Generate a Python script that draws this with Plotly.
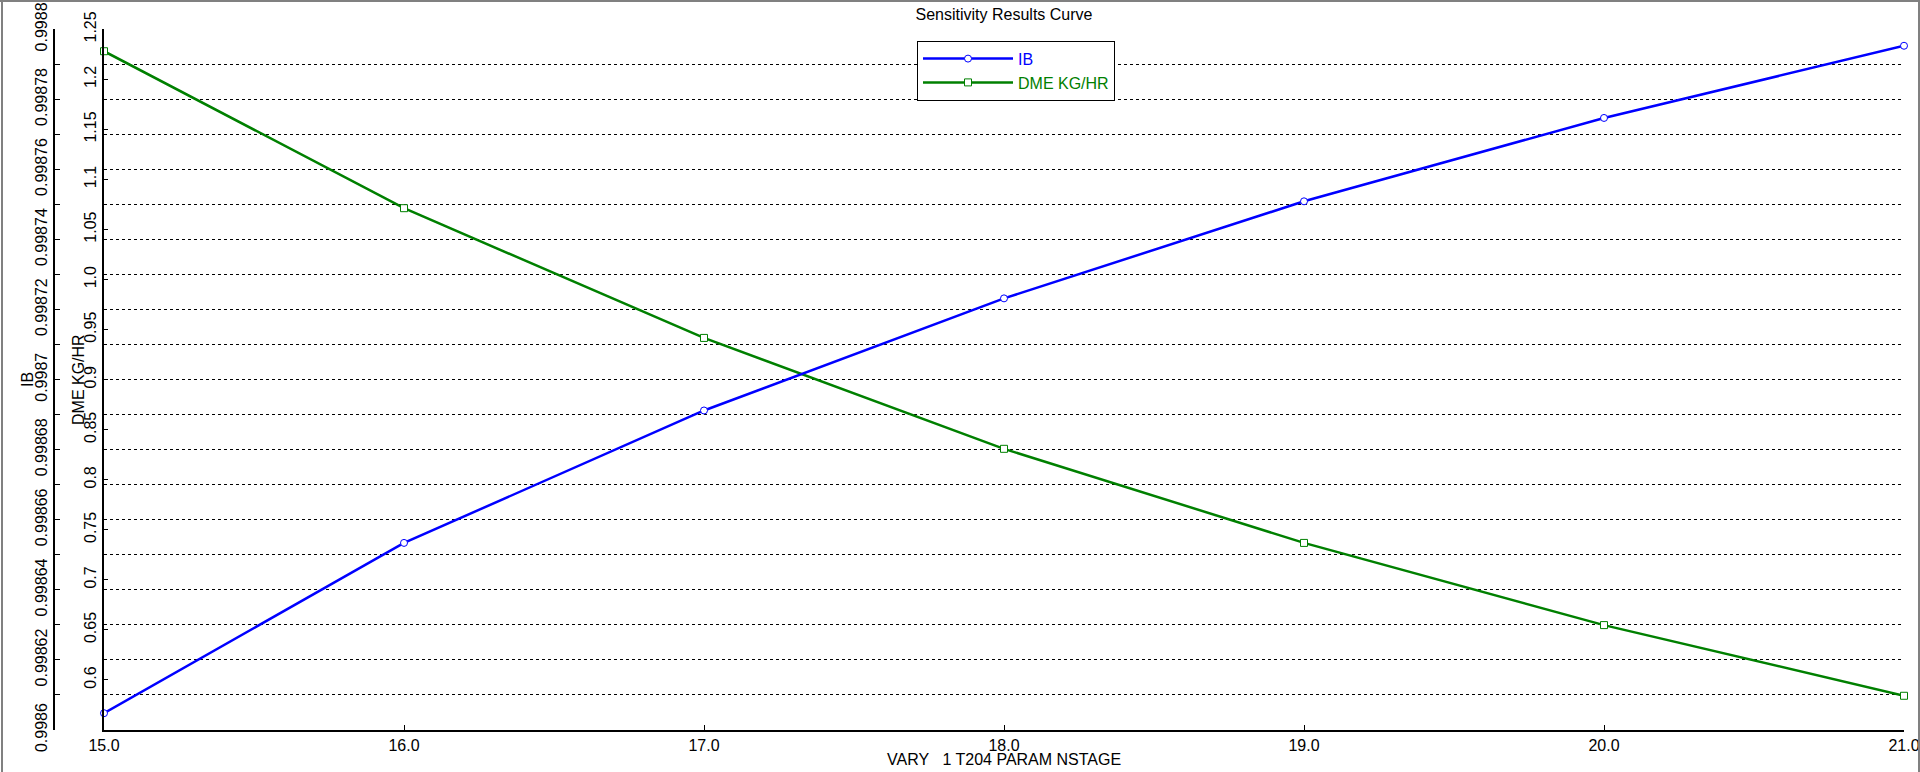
import plotly.graph_objects as go

# ---------------- data ----------------
nstage = [15, 16, 17, 18, 19, 20, 21]
ib = [0.9986048, 0.9986534, 0.9986912, 0.9987232, 0.9987509, 0.9987747, 0.9987953]
dme_kg_hr = [1.2281, 1.0713, 0.9417, 0.8309, 0.7369, 0.6548, 0.5842]

x_tick_labels = ["15.0", "16.0", "17.0", "18.0", "19.0", "20.0", "21.0"]
ib_tick_labels = ["0.9986", "0.99862", "0.99864", "0.99866", "0.99868", "0.9987",
                  "0.99872", "0.99874", "0.99876", "0.99878", "0.9988"]
dme_tick_labels = ["0.6", "0.65", "0.7", "0.75", "0.8", "0.85", "0.9", "0.95",
                   "1.0", "1.05", "1.1", "1.15", "1.2", "1.25"]

title_text = "Sensitivity Results Curve"
x_title = "VARY\u00a0\u00a0\u00a01 T204 PARAM NSTAGE"
ib_title = "IB"
dme_title = "DME KG/HR"

# ---------------- layout constants (pixels) ----------------
W, H = 1920, 772
PX_L, PX_R = 104, 1904      # plot area x
PY_T, PY_B = 29.3, 730      # plot area y (from top)
IB_AXIS_X = 54

FONT = "Liberation Sans, Arial, sans-serif"
BLUE = "#0000ff"
GREEN = "#008000"

fig = go.Figure()
fig.add_trace(go.Scatter(
    x=nstage, y=ib, name="<span style='color:#0000ff'>IB</span>",
    mode="lines+markers", yaxis="y2", cliponaxis=False,
    line=dict(color=BLUE, width=2.5),
    marker=dict(symbol="circle", size=7, color="white", line=dict(color=BLUE, width=1)),
))
fig.add_trace(go.Scatter(
    x=nstage, y=dme_kg_hr, name="<span style='color:#008000'>DME KG/HR</span>",
    mode="lines+markers", yaxis="y", cliponaxis=False,
    line=dict(color=GREEN, width=2.5),
    marker=dict(symbol="square", size=7, color="white", line=dict(color=GREEN, width=1)),
))

ydom = [(H - PY_B) / H, (H - PY_T) / H]
xdom = [PX_L / W, PX_R / W]

fig.update_layout(
    width=W, height=H, autosize=False,
    margin=dict(l=0, r=0, t=0, b=0, pad=0, autoexpand=False),
    paper_bgcolor="white", plot_bgcolor="white",
    font=dict(family=FONT, size=16, color="black"),
    showlegend=True,
    title=dict(text=title_text, x=(PX_L + PX_R) / 2 / W, xanchor="center",
               xref="paper", yref="paper",
               y=1 - 14.5 / H, yanchor="middle", font=dict(size=16, color="black")),
    xaxis=dict(
        domain=xdom, range=[nstage[0], nstage[-1]],
        tickvals=[float(t) for t in x_tick_labels], ticktext=x_tick_labels,
        ticks="inside", ticklen=5, tickcolor="black", tickwidth=1,
        showline=True, linecolor="black", linewidth=1.5,
        showgrid=False, zeroline=False, tickfont=dict(size=16),
        anchor="y", automargin=False,
    ),
    yaxis=dict(
        domain=ydom, range=[0.55, 1.25],
        tickvals=[float(t) for t in dme_tick_labels], ticktext=dme_tick_labels,
        tickangle=-90, ticks="inside", ticklen=4, tickcolor="black",
        showline=True, linecolor="black", linewidth=1.5,
        showgrid=False, zeroline=False, anchor="x", tickfont=dict(size=16),
        automargin=False,
    ),
    yaxis2=dict(
        overlaying="y", anchor="free", position=IB_AXIS_X / W, side="left",
        range=[float(ib_tick_labels[0]), float(ib_tick_labels[-1])],
        tickvals=[float(t) for t in ib_tick_labels], ticktext=ib_tick_labels,
        tickangle=-90, ticks="inside", ticklen=5, tickcolor="black",
        showline=True, linecolor="black", linewidth=1.5,
        showgrid=True, gridcolor="black", gridwidth=1, griddash="3px,3px",
        minor=dict(tick0=float(ib_tick_labels[0]), dtick=0.00001, ticks="inside",
                   ticklen=5, tickcolor="black", showgrid=True, gridcolor="black",
                   gridwidth=1, griddash="3px,3px"),
        zeroline=False, tickfont=dict(size=16), automargin=False,
    ),
    legend=dict(
        x=917 / W, y=1 - 40.7 / H, xanchor="left", yanchor="top",
        bgcolor="white", bordercolor="black", borderwidth=1,
        font=dict(size=16), itemwidth=90, tracegroupgap=0,
    ),
    annotations=[
        dict(text=ib_title, textangle=-90, xref="paper", yref="paper",
             x=27 / W, y=1 - 380 / H, xanchor="center", yanchor="middle",
             showarrow=False, font=dict(size=16, color="black")),
        dict(text=dme_title, textangle=-90, xref="paper", yref="paper",
             x=78 / W, y=1 - 380 / H, xanchor="center", yanchor="middle",
             showarrow=False, font=dict(size=16, color="black")),
        dict(text=x_title, xref="paper", yref="paper",
             x=(PX_L + PX_R) / 2 / W, y=1 - 759 / H, xanchor="center", yanchor="middle",
             showarrow=False, font=dict(size=16, color="black")),
    ],
    shapes=[
        dict(type="line", xref="paper", yref="paper", x0=0, x1=1, y0=1 - 1 / H, y1=1 - 1 / H,
             line=dict(color="#808080", width=2)),
        dict(type="line", xref="paper", yref="paper", x0=2 / W, x1=2 / W, y0=0, y1=1,
             line=dict(color="#808080", width=2)),
        dict(type="line", xref="paper", yref="paper", x0=1 - 1 / W, x1=1 - 1 / W, y0=0, y1=1,
             line=dict(color="#808080", width=2)),
    ],
)

fig.write_html("out.html",
               config={"displayModeBar": False},
               post_script="document.body.style.margin='0';document.body.style.overflow='hidden';")
